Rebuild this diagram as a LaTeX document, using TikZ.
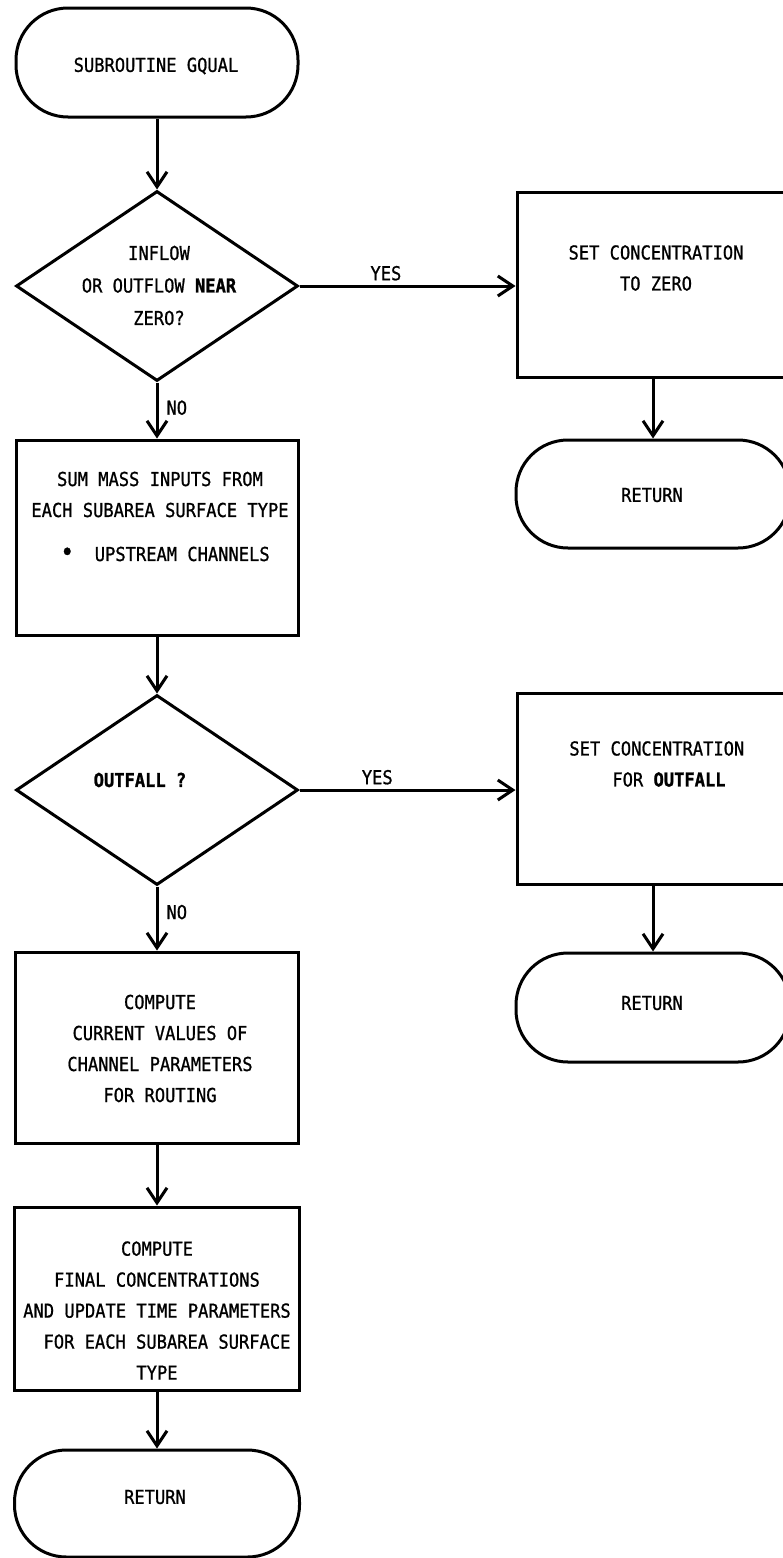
\documentclass[tikz,border=0pt]{standalone}
\usepackage{fontspec}
\usetikzlibrary{shapes.geometric,arrows.meta}
\newfontfamily\chartfont[FakeStretch=0.89, FakeBold=0.9, BoldFeatures={FakeBold=1.2}]{DejaVu Sans Mono}

\begin{document}
\begin{tikzpicture}[x=0.5pt,y=-0.5pt,
  every node/.style={font=\chartfont\fontsize{9.6pt}{15.5pt}\selectfont},
  box/.style={draw, line width=1.5pt, rectangle, inner sep=0pt},
  term/.style={draw, line width=1.5pt, rounded corners=26pt, inner sep=0pt},
  decision/.style={draw, line width=1.5pt, diamond, inner sep=0pt},
  txt/.style={align=center, inner sep=0pt},
  tag/.style={inner sep=0pt},
  flow/.style={line width=1.5pt, -{Straight Barb[length=7.5pt,width=10pt,line width=1.5pt]}}]

\useasboundingbox (0,0) rectangle (782,1558);

% ---- left column ----
\node[term, minimum width=141pt, minimum height=54.5pt] (t1) at (157,62.5) {};
\node[txt] (t1t) at (156,66) {SUBROUTINE GQUAL};

\node[decision, minimum width=141pt, minimum height=95pt] (d1) at (157,286) {};
\node[txt, font=\chartfont\fontsize{9.6pt}{16.25pt}\selectfont] (d1t) at (159,285.5)
  {INFLOW\\OR OUTFLOW \textbf{NEAR}\\ZERO?};

\node[box, minimum width=141pt, minimum height=97.5pt] (b3) at (157,537.5) {};
\node[txt] (b3t) at (160,516.5)
  {SUM MASS INPUTS FROM\\EACH SUBAREA SURFACE TYPE\\[6.5pt]\hspace*{5pt}{\fontsize{13pt}{13pt}\selectfont •}\ \ UPSTREAM CHANNELS};

\node[decision, minimum width=141pt, minimum height=95pt] (d2) at (157,790) {};
\node[txt] (d2t) at (140,780) {\textbf{OUTFALL ?}};

\node[box, minimum width=141.5pt, minimum height=95.5pt] (b5) at (157,1047.5) {};
\node[txt] (b5t) at (160,1048.5)
  {COMPUTE\\CURRENT VALUES OF\\CHANNEL PARAMETERS\\FOR ROUTING};

\node[box, minimum width=142.5pt, minimum height=91.5pt] (b6) at (157,1298.5) {};
\node[txt] (b6t) at (157,1310.5)
  {COMPUTE\\FINAL CONCENTRATIONS\\AND UPDATE TIME PARAMETERS\\\hspace*{10pt}FOR EACH SUBAREA SURFACE\\TYPE};

\node[term, minimum width=142.5pt, minimum height=53.5pt] (t3) at (157,1503.5) {};
\node[txt] (t3t) at (155,1497) {RETURN};

% ---- right column ----
\node[box, minimum width=136pt, minimum height=92.5pt] (b2) at (653,284.5) {};
\node[txt] (b2t) at (656,268) {SET CONCENTRATION\\TO ZERO};

\node[term, minimum width=137pt, minimum height=54pt] (r1) at (653,494) {};
\node[txt] (r1t) at (652,495) {RETURN};

\node[box, minimum width=136pt, minimum height=95.5pt] (b4) at (653,788.5) {};
\node[txt, align=left, anchor=west] (b4t) at (569,764)
  {SET CONCENTRATION\\\hspace*{21.5pt}FOR \textbf{OUTFALL}};

\node[term, minimum width=137pt, minimum height=54.5pt] (r2) at (653,1007.5) {};
\node[txt] (r2t) at (652,1003) {RETURN};

% ---- connectors ----
\draw[flow] (t1.south) -- (d1.north);
\draw[flow] (d1.east) -- (b2.west |- d1.east)
  node[tag, pos=0.4, above=2pt] (yes1) {YES};
\draw[flow] (b2.south) -- (r1.north);
\draw[flow] (d1.south) -- (b3.north)
  node[tag, pos=0.45, right=4pt] (no1) {NO};
\draw[flow] (b3.south) -- (d2.north);
\draw[flow] (d2.east) -- (b4.west |- d2.east)
  node[tag, pos=0.36, above=2pt] (yes2) {YES};
\draw[flow] (b4.south) -- (r2.north);
\draw[flow] (d2.south) -- (b5.north)
  node[tag, pos=0.4, right=4pt] (no2) {NO};
\draw[flow] (b5.south) -- (b6.north);
\draw[flow] (b6.south) -- (t3.north);
\end{tikzpicture}
\end{document}
